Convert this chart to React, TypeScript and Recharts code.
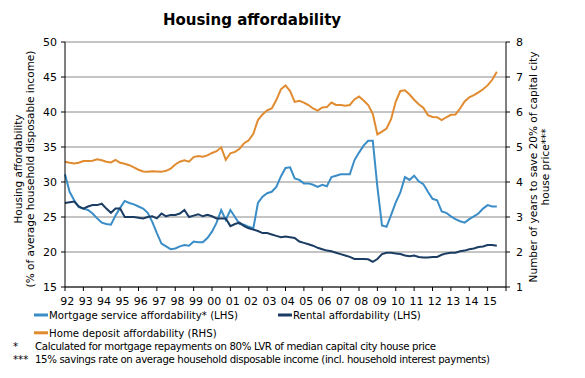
import React from "react";
import { LineChart, Line, XAxis, YAxis, CartesianGrid } from "recharts";

const FONT = "'DejaVu Sans', Verdana, sans-serif";

// quarterly observations, 1992 Q1 .. 2015 Q3
const startYear = 1992;

const mortgage = [
  31.1, 28.6, 27.4, 26.4, 26.2, 26.0, 25.5, 24.8, 24.2, 24.0, 23.9, 25.2,
  26.3, 27.3, 27.0, 26.8, 26.5, 26.2, 25.6, 24.3, 22.7, 21.2, 20.8, 20.4,
  20.5, 20.8, 21.0, 20.9, 21.5, 21.4, 21.4, 22.0, 22.9, 24.2, 26.0, 24.6,
  26.0, 25.0, 24.0, 23.9, 23.6, 23.4, 27.0, 27.9, 28.4, 28.6, 29.3, 30.8,
  32.0, 32.1, 30.5, 30.3, 29.8, 29.8, 29.6, 29.3, 29.6, 29.4, 30.7, 30.9,
  31.1, 31.1, 31.1, 33.1, 34.2, 35.2, 35.9, 35.9, 29.3, 23.8, 23.6, 25.3,
  27.1, 28.5, 30.7, 30.3, 30.9, 30.1, 29.7, 28.6, 27.6, 27.4, 25.8, 25.6,
  25.1, 24.7, 24.4, 24.2, 24.7, 25.1, 25.5, 26.2, 26.7, 26.5, 26.5,
];

const rental = [
  27.0, 27.1, 27.2, 26.5, 26.2, 26.5, 26.7, 26.7, 26.9, 26.2, 25.6, 26.2,
  26.2, 25.0, 25.0, 25.0, 24.9, 24.8, 25.0, 25.1, 24.8, 25.5, 25.1, 25.3,
  25.3, 25.5, 26.0, 25.0, 25.2, 25.4, 25.1, 25.3, 25.1, 24.8, 24.8, 24.8,
  23.7, 24.0, 24.2, 23.7, 23.4, 23.2, 23.0, 22.7, 22.7, 22.5, 22.3, 22.1,
  22.2, 22.1, 22.0, 21.5, 21.3, 21.1, 20.9, 20.6, 20.4, 20.2, 20.1, 19.9,
  19.7, 19.5, 19.3, 19.0, 19.0, 19.0, 18.95, 18.6, 19.0, 19.7, 19.9, 19.9,
  19.8, 19.7, 19.5, 19.4, 19.5, 19.3, 19.2, 19.2, 19.3, 19.3, 19.6, 19.8,
  19.9, 19.9, 20.1, 20.2, 20.4, 20.5, 20.7, 20.8, 21.0, 21.0, 20.9,
];

const deposit = [
  4.58, 4.55, 4.53, 4.55, 4.6, 4.6, 4.61, 4.65, 4.62, 4.58, 4.56, 4.63,
  4.55, 4.52, 4.48, 4.42, 4.35, 4.3, 4.29, 4.31, 4.3, 4.29, 4.32, 4.38,
  4.5, 4.58, 4.62, 4.58, 4.71, 4.74, 4.72, 4.76, 4.83, 4.88, 4.99, 4.63,
  4.82, 4.86, 4.95, 5.11, 5.19, 5.38, 5.77, 5.93, 6.05, 6.1, 6.34, 6.65,
  6.76, 6.6, 6.29, 6.32, 6.27, 6.2, 6.1, 6.04, 6.13, 6.14, 6.27, 6.2,
  6.2, 6.18, 6.2, 6.36, 6.44, 6.33, 6.2, 5.95, 5.36, 5.44, 5.53, 5.8,
  6.3, 6.6, 6.62, 6.5, 6.35, 6.22, 6.12, 5.91, 5.86, 5.85, 5.77, 5.85,
  5.92, 5.93, 6.1, 6.3, 6.42, 6.48, 6.56, 6.65, 6.76, 6.92, 7.15,
];

const yearTicks = [
  1992, 1993, 1994, 1995, 1996, 1997, 1998, 1999, 2000, 2001, 2002, 2003,
  2004, 2005, 2006, 2007, 2008, 2009, 2010, 2011, 2012, 2013, 2014, 2015, 2016,
];
const lhsTicks = [15, 20, 25, 30, 35, 40, 45, 50];
const rhsTicks = [1, 2, 3, 4, 5, 6, 7, 8];

const COLORS = {
  mortgage: "#3a8dc6",
  rental: "#1b3d63",
  deposit: "#e08b30",
};

const rows = mortgage.map((m, i) => ({
  t: startYear + i / 4,
  mortgage: m,
  rental: rental[i],
  deposit: deposit[i],
}));

const YearTick = (props: any) => {
  const { x, y, payload } = props;
  if (payload.value >= 2016) return null;
  const label = String(payload.value).slice(2);
  return (
    <text x={x + 2.3} y={y} dy="0.71em" textAnchor="middle" fontSize={11} fontFamily={FONT} fill="#000">
      {label}
    </text>
  );
};

// rotated two-line axis title, placed in page coordinates
const AxisTitle = ({ x, y, lines }: { x: number; y: number; lines: string[] }) => (
  <text transform={`translate(${x},${y}) rotate(-90)`} textAnchor="middle">
    {lines.map((l, i) => (
      <tspan key={i} x={0} dy={i === 0 ? 0 : 12}>
        {l}
      </tspan>
    ))}
  </text>
);

export default function App() {
  const tickStyle = { fontSize: 11, fill: "#000", fontFamily: FONT };
  return (
    <div style={{ position: "absolute", left: 0, top: 0, width: 585, height: 378, background: "#fff" }}>
      <div
        style={{
          position: "absolute",
          left: 0,
          top: 13,
          width: 504,
          textAlign: "center",
          fontFamily: FONT,
          fontWeight: "bold",
          fontSize: 15,
          lineHeight: "15px",
        }}
      >
        Housing affordability
      </div>
      <LineChart width={585} height={378} data={rows} margin={{ top: 42, right: 0, bottom: 71, left: 0 }}>
        <CartesianGrid yAxisId="left" vertical={false} stroke="#8a8a8a" />
        <XAxis
          dataKey="t"
          type="number"
          domain={[1992, 2016]}
          ticks={yearTicks}
          interval={0}
          height={20}
          tickSize={4}
          tickMargin={6}
          stroke="#000"
          tick={<YearTick />}
        />
        <YAxis
          yAxisId="left"
          width={65}
          domain={[15, 50]}
          ticks={lhsTicks}
          interval={0}
          tickSize={4}
          tickMargin={4}
          stroke="#000"
          tick={tickStyle}
        />
        <YAxis
          yAxisId="right"
          orientation="right"
          width={79}
          domain={[1, 8]}
          ticks={rhsTicks}
          interval={0}
          tickSize={4}
          tickMargin={6}
          stroke="#000"
          tick={tickStyle}
        />
        <Line yAxisId="left" dataKey="mortgage" stroke={COLORS.mortgage} strokeWidth={2} dot={false} isAnimationActive={false} />
        <Line yAxisId="left" dataKey="rental" stroke={COLORS.rental} strokeWidth={2} dot={false} isAnimationActive={false} />
        <Line yAxisId="right" dataKey="deposit" stroke={COLORS.deposit} strokeWidth={2} dot={false} isAnimationActive={false} />
      </LineChart>
      <svg width={585} height={378} style={{ position: "absolute", left: 0, top: 0, pointerEvents: "none" }}>
        <g fontFamily={FONT} fontSize={10.5} fill="#000">
          <AxisTitle x={22} y={169} lines={["Housing affordability", "(% of average household disposable income)"]} />
          <AxisTitle x={537} y={167} lines={["Number of years to save 20% of capital city", "house price***"]} />
        </g>
        <g fontFamily={FONT} fontSize={10.2} fill="#000">
          <rect x={34} y={313.5} width={14} height={3} fill={COLORS.mortgage} />
          <text x={49} y={318.5}>Mortgage service affordability* (LHS)</text>
          <rect x={278} y={313.5} width={14} height={3} fill={COLORS.rental} />
          <text x={293} y={318.5}>Rental affordability (LHS)</text>
          <rect x={34} y={331.3} width={14} height={3} fill={COLORS.deposit} />
          <text x={49} y={336.7}>Home deposit affordability (RHS)</text>
          <text x={13} y={349.5}>*</text>
          <text x={35} y={349.5} textLength={401} lengthAdjust="spacing">
            Calculated for mortgage repayments on 80% LVR of median capital city house price
          </text>
          <text x={13} y={363}>***</text>
          <text x={35} y={363} textLength={455} lengthAdjust="spacing">
            15% savings rate on average household disposable income (incl. household interest payments)
          </text>
        </g>
      </svg>
    </div>
  );
}
